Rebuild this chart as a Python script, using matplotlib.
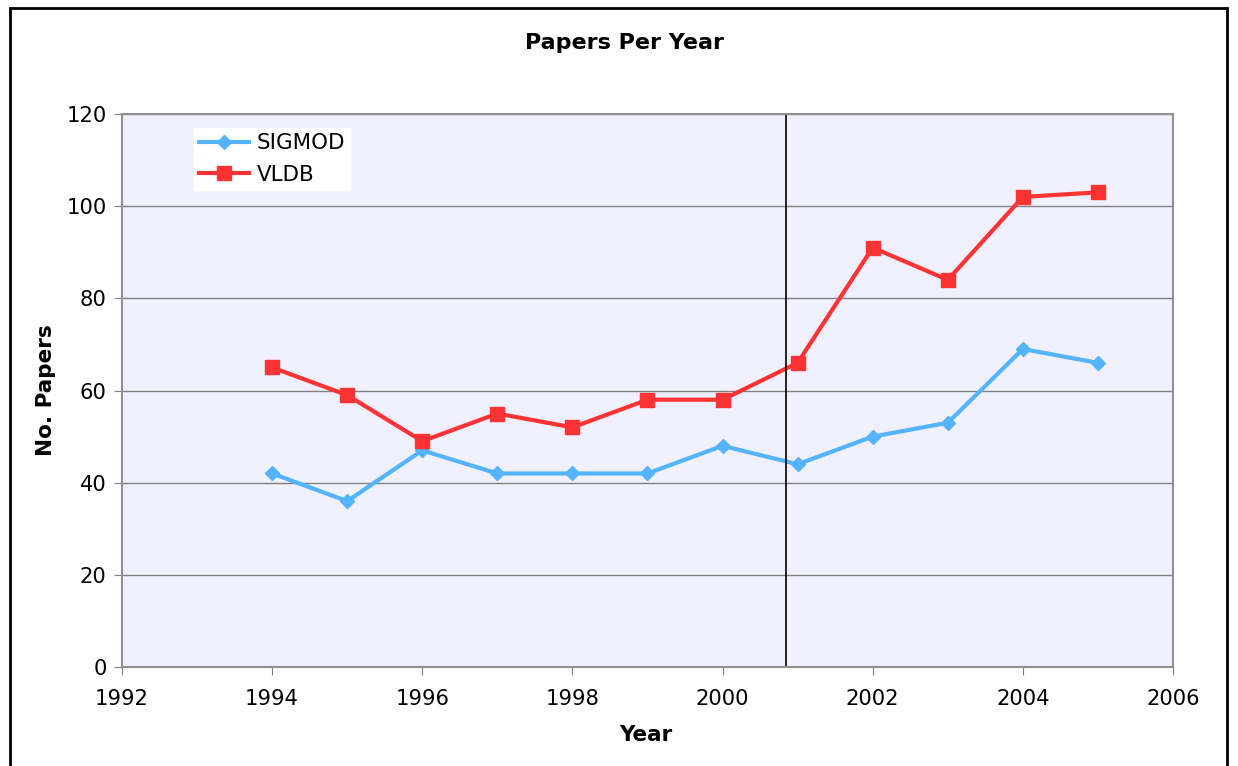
import numpy as np
import matplotlib.pyplot as plt
from matplotlib.patches import Rectangle

years = [1994, 1995, 1996, 1997, 1998, 1999, 2000, 2001, 2002, 2003, 2004, 2005]
sigmod = [42, 36, 47, 42, 42, 42, 48, 44, 50, 53, 69, 66]
vldb = [65, 59, 49, 55, 52, 58, 58, 66, 91, 84, 102, 103]
split_year = 2000.84

fig = plt.figure(figsize=(12.38, 7.66), dpi=100)
ax = fig.add_axes([0.0985, 0.1292, 0.849, 0.7220])

# outer frame, cut off at the bottom like the reference
fig.patches.append(Rectangle((10 / 1238, -0.05), 1227 / 1238 - 10 / 1238, 1 - 8 / 766 + 0.05,
                             transform=fig.transFigure, fill=False, edgecolor="black", lw=2))

ax.set_facecolor("#F0F0FF")
ax.plot(years, sigmod, color="#55B4FF", lw=3, marker="D", ms=7, label="SIGMOD")
ax.plot(years, vldb, color="#FF3333", lw=3, marker="s", ms=9.5, label="VLDB")
ax.axvline(split_year, color="black", lw=1.2)

ax.set_xlim(1992, 2006)
ax.set_ylim(0, 120)
ax.set_xticks(np.arange(1992, 2007, 2))
ax.set_yticks(np.arange(0, 121, 20))
ax.yaxis.grid(True, color="#808080", lw=1)
ax.set_axisbelow(True)
for s in ax.spines.values():
    s.set_color("#909090")
    s.set_linewidth(1.5)
ax.tick_params(direction="out", length=6, color="#808080", labelsize=15.2)
ax.tick_params(axis="x", pad=10)
ax.tick_params(axis="y", pad=5)

fig.text(624 / 1238, 1 - 43 / 766, "Papers Per Year", fontsize=16, fontweight="bold",
         ha="center", va="center")
ax.set_xlabel("Year", fontsize=15.5, fontweight="bold")
ax.set_ylabel("No. Papers", fontsize=15.5, fontweight="bold")
ax.xaxis.set_label_coords(0.4986, -0.105)
ax.yaxis.set_label_coords(-0.0628, 0.5)

leg = ax.legend(loc="upper left", bbox_to_anchor=(0.0685, 0.9747), borderaxespad=0,
                fontsize=15.4, frameon=True, fancybox=False, framealpha=1,
                edgecolor="white", handlelength=2.34, handletextpad=0.33,
                borderpad=0.25, labelspacing=0.54)

fig.savefig("out.png", dpi=100)
